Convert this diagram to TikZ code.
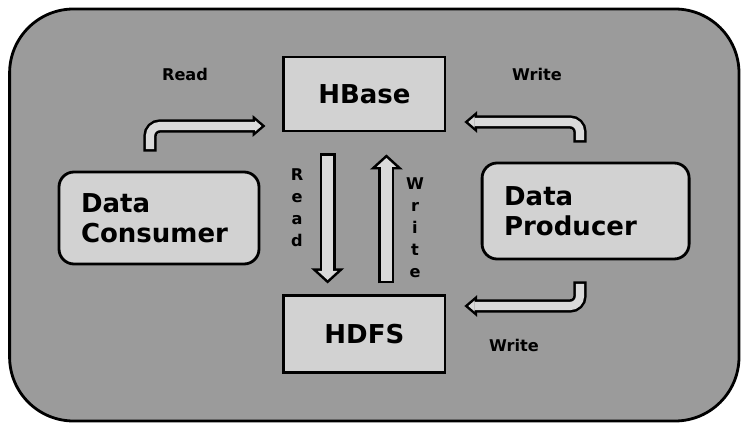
\documentclass[tikz,border=0pt]{standalone}
\usepackage{fontspec}
\setmainfont{DejaVu Sans}
\usetikzlibrary{arrows.meta, calc}

\definecolor{bggray}{RGB}{155,155,155}
\definecolor{boxgray}{RGB}{210,210,210}
\definecolor{arrowfill}{RGB}{218,218,218}

\begin{document}
\begin{tikzpicture}[
    plainbox/.style={draw, line width=2pt, fill=boxgray, font=\fontsize{18.5}{21.3}\selectfont\bfseries},
    databox/.style={plainbox, rounded corners=0.375cm, align=left, inner xsep=0.55cm},
    label/.style={font=\fontsize{11.5}{15.6}\selectfont\bfseries, align=center},
    fat shell/.style={line width=11.4pt, draw=black, -{Triangle[length=10.7pt,width=22.8pt]}},
    fat core/.style={line width=7.8pt, draw=arrowfill, shorten <=1.8pt, shorten >=2.5pt, -{Triangle[length=6.4pt,width=13.6pt]}},
    bent shell/.style={line width=9.4pt, draw=black, rounded corners=7pt, -{Triangle[length=9.2pt,width=15pt]}},
    bent core/.style={line width=5.8pt, draw=arrowfill, rounded corners=7pt, shorten <=1.8pt, shorten >=2.8pt, -{Triangle[length=4.6pt,width=7.6pt]}}
]
    \useasboundingbox (0,0) rectangle (18.8,10.85);

    % Background panel
    \draw [line width=2pt, fill=bggray, rounded corners=1.6cm] (0.24,0.325) rectangle (18.475,10.625);

    % Boxes
    \node [plainbox, minimum width=4.025cm, minimum height=1.85cm] (hbase) at (9.11,8.5) {HBase};
    \node [plainbox, minimum width=4.025cm, minimum height=1.925cm] (hdfs) at (9.11,2.49) {HDFS};
    \node [databox, text width=3.9cm, minimum height=2.3cm] (consumer) at (3.975,5.4) {Data\\Consumer};
    \node [databox, text width=4.075cm, minimum height=2.4cm] (producer) at (14.64,5.575) {Data\\Producer};

    % Arrow ends
    \coordinate (rd1) at ($(consumer.north)+(-0.225,0.475)$);
    \coordinate (rd2) at ($(hbase.west)+(-0.425,-0.8)$);
    \coordinate (rd3) at ($(hbase.south)+(-0.92,-0.525)$);
    \coordinate (rd4) at ($(hdfs.north)+(-0.92,0.275)$);
    \coordinate (wr1) at ($(hdfs.north)+(0.55,0.275)$);
    \coordinate (wr2) at ($(hbase.south)+(0.55,-0.55)$);
    \coordinate (wr3) at ($(producer.north)+(-0.14,0.475)$);
    \coordinate (wr4) at ($(hbase.east)+(0.45,-0.7)$);
    \coordinate (wr5) at ($(producer.south)+(-0.14,-0.525)$);
    \coordinate (wr6) at ($(hdfs.east)+(0.45,0.71)$);

    % Hollow arrows
    \draw [bent shell] (rd1) |- (rd2);
    \draw [bent core] (rd1) |- (rd2);
    \draw [fat shell] (rd3) -- (rd4);
    \draw [fat core] (rd3) -- (rd4);
    \draw [fat shell] (wr1) -- (wr2);
    \draw [fat core] (wr1) -- (wr2);
    \draw [bent shell] (wr3) |- (wr4);
    \draw [bent core] (wr3) |- (wr4);
    \draw [bent shell] (wr5) |- (wr6);
    \draw [bent core] (wr5) |- (wr6);

    % Labels
    \node [label] (readtop) at (4.625,9.0) {Read};
    \node [label] (writetop) at (13.425,9.0) {Write};
    \node [label] (writebot) at (12.85,2.225) {Write};
    \node [label] (readside) at (7.425,5.65) {R\\e\\a\\d};
    \node [label] (writeside) at (10.375,5.16) {W\\r\\i\\t\\e};

\end{tikzpicture}
\end{document}
